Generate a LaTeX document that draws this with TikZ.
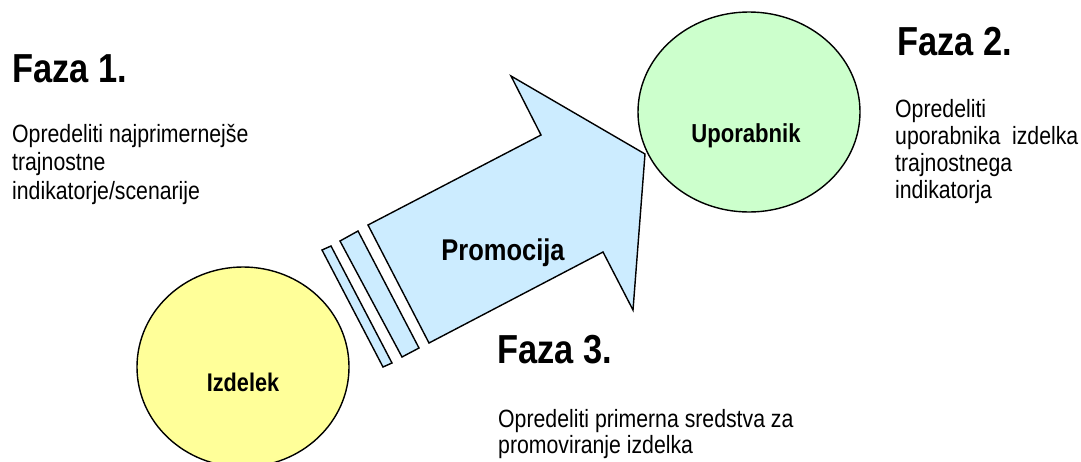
\documentclass[tikz,border=0pt]{standalone}
\usepackage{fontspec}
\setmainfont{Liberation Sans}[FakeStretch=0.85]
\usetikzlibrary{shapes.geometric}
\definecolor{yelfill}{HTML}{FFFF99}
\definecolor{grnfill}{HTML}{CCFFCC}
\definecolor{blufill}{HTML}{CCECFF}
\tikzset{
  outline/.style={draw=black, line width=1.4pt, line join=miter},
  oval/.style={outline, ellipse, inner sep=0pt},
  heading/.style={anchor=base west, inner sep=0pt, font=\fontsize{40.5}{44}\selectfont\bfseries},
  bodytext/.style={anchor=north west, inner sep=0pt, align=left},
  ovaltext/.style={inner sep=0pt, font=\fontsize{26}{30}\selectfont\bfseries},
}
\begin{document}
\begin{tikzpicture}[x=1pt,y=-1pt]
\useasboundingbox (0,0) rectangle (1081,461);

% ellipses
\node[oval, fill=yelfill, minimum width=212pt, minimum height=200pt] (izdelek) at (243,367) {};
\node[oval, fill=grnfill, minimum width=222pt, minimum height=200pt] (uporabnik) at (749,112) {};

% arrow
\draw[outline, fill=blufill] (368,225) -- (541,135) -- (511,76) -- (645,154) -- (633,310) -- (603,252) -- (429,343) -- cycle;
\draw[outline, fill=blufill] (340,241) -- (358,231) -- (419,348) -- (402,357) -- cycle;
\draw[outline, fill=blufill] (322,250) -- (331,246) -- (392,363) -- (383,367) -- cycle;

% labels in shapes
\node[ovaltext, font=\fontsize{30}{34}\selectfont\bfseries] (promocija) at (503,253) {Promocija};
\node[ovaltext] (uporabniktxt) at (746,136) {Uporabnik};
\node[ovaltext, font=\fontsize{25.5}{30}\selectfont\bfseries] (izdelektxt) at (243,382) {Izdelek};

% headings
\node[heading] (faza1) at (12,82) {Faza 1.};
\node[heading] (faza2) at (897,55) {Faza 2.};
\node[heading] (faza3) at (497,363) {Faza 3.};

% body texts
\node[bodytext, font=\fontsize{25}{28.5}\selectfont] (t1) at (12,124) {Opredeliti najprimernejše\\trajnostne\\indikatorje/scenarije};
\node[bodytext, font=\fontsize{25}{27}\selectfont] (t2) at (895,99) {Opredeliti\\uporabnika\ \ izdelka\\trajnostnega\\indikatorja};
\node[bodytext, font=\fontsize{25}{26.5}\selectfont] (t3) at (498,409) {Opredeliti primerna sredstva za\\promoviranje izdelka};
\end{tikzpicture}
\end{document}
